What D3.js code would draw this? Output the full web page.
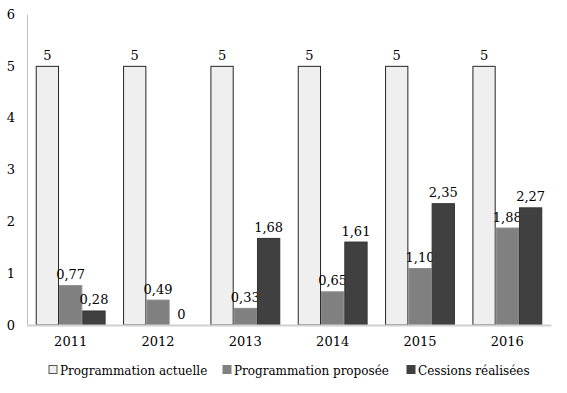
<!DOCTYPE html>
<html>
<head>
<meta charset="utf-8">
<script src="https://d3js.org/d3.v7.min.js"></script>
<style>
  body { margin: 0; background: #fff; }
  text { font-family: "DejaVu Serif", serif; fill: #000; }
</style>
</head>
<body>
<div id="chart"></div>
<script>
// data
var years = ["2011", "2012", "2013", "2014", "2015", "2016"];
var actuelle = [5, 5, 5, 5, 5, 5];
var proposee = [0.77, 0.49, 0.33, 0.65, 1.10, 1.88];
var cessions = [0.28, 0, 1.68, 1.61, 2.35, 2.27];
var seriesNames = ["Programmation actuelle", "Programmation proposée", "Cessions réalisées"];
var yTicks = [0, 1, 2, 3, 4, 5, 6];

var series = [actuelle, proposee, cessions];
var fills = ["#efefef", "#808080", "#404040"];
var strokes = ["#262626", "#8c8c8c", "#333333"];

var W = 567, H = 393;
var margin = {top: 14, right: 16, bottom: 68, left: 27};
var width = W - margin.left - margin.right;
var height = H - margin.top - margin.bottom;

var svg = d3.select("#chart").append("svg")
    .attr("width", W).attr("height", H)
  .append("g")
    .attr("transform", "translate(" + margin.left + "," + margin.top + ")");

var x = d3.scaleBand().domain(years).range([0, width]).paddingInner(0.2).paddingOuter(0.1);
var xs = d3.scaleBand().domain([0, 1, 2]).range([0, x.bandwidth()]);
var y = d3.scaleLinear().domain([0, 6]).range([height, 0]);

// y axis
var yAxis = svg.append("g").call(d3.axisLeft(y).tickValues(yTicks).tickFormat(d3.format("d")).tickSize(0).tickPadding(12));
yAxis.select(".domain").attr("stroke", "#bfbfbf");
yAxis.selectAll("text").style("font-size", "13px");

// bars
series.forEach(function(vals, s) {
  var g = svg.append("g");
  g.selectAll("rect")
    .data(vals)
    .enter().append("rect")
      .attr("x", function(d, i) { return x(years[i]) + xs(s) + 0.5; })
      .attr("y", function(d) { return y(d) + 0.5; })
      .attr("width", xs.bandwidth() - 1)
      .attr("height", function(d) { return Math.max(0, y(0) - y(d) - 0.5); })
      .attr("fill", fills[s])
      .attr("stroke", d => d > 0 ? strokes[s] : "none")
      .attr("stroke-width", 1);
  g.selectAll("text")
    .data(vals)
    .enter().append("text")
      .attr("x", function(d, i) { return x(years[i]) + xs(s) + xs.bandwidth() / 2; })
      .attr("y", function(d) { return y(d) - 6; })
      .attr("text-anchor", "middle")
      .style("font-size", "13px")
      .text(function(d) { return d === 5 ? "5" : d === 0 ? "0" : d3.format(".2f")(d).replace(".", ","); });
});

// x axis
var xAxis = svg.append("g")
    .attr("transform", "translate(0," + height + ")")
    .call(d3.axisBottom(x).tickSize(0).tickPadding(12));
xAxis.select(".domain").attr("stroke", "#d0d0d0").attr("stroke-width", 2);
xAxis.selectAll("text").style("font-size", "13px");

// legend
var legendX = [22, 196, 380];
var legend = svg.append("g").attr("transform", "translate(0," + (height + 45) + ")");
seriesNames.forEach(function(n, i) {
  var lg = legend.append("g").attr("transform", "translate(" + legendX[i] + ",0)");
  lg.append("rect").attr("x", 0).attr("y", -4.5).attr("width", 8).attr("height", 8)
    .attr("fill", fills[i]).attr("stroke", i === 0 ? "#555" : fills[i]);
  lg.append("text").attr("x", 11).attr("y", 4.5).style("font-size", "12px").text(n);
});
</script>
</body>
</html>
